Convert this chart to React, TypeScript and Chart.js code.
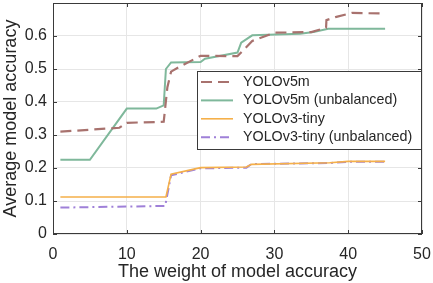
import React, { useEffect, useRef } from 'react';
import { Chart, registerables } from 'chart.js';

Chart.register(...registerables);

// ---- data ----
const seriesNames = ['YOLOv5m', 'YOLOv5m (unbalanced)', 'YOLOv3-tiny', 'YOLOv3-tiny (unbalanced)'];

const v5mX = [1, 9, 10, 15, 15.5, 16, 17, 20, 25, 27, 30, 35, 37, 37.05, 38.4, 40.5, 45];
const v5mY = [0.31, 0.322, 0.337, 0.34, 0.445, 0.492, 0.505, 0.54, 0.539, 0.585, 0.61, 0.612, 0.625, 0.648, 0.658, 0.67, 0.668];

const v5mUX = [1, 5, 10, 14, 15, 15.3, 16, 20, 20.6, 25, 25.5, 27, 33.5, 35.3, 37.3, 45];
const v5mUY = [0.225, 0.225, 0.38, 0.38, 0.39, 0.5, 0.52, 0.521, 0.531, 0.55, 0.58, 0.602, 0.607, 0.612, 0.622, 0.622];

const v3tX = [1, 15.3, 16, 20, 26.2, 26.9, 37.5, 40, 45];
const v3tY = [0.112, 0.112, 0.181, 0.201, 0.203, 0.211, 0.216, 0.22, 0.22];

const v3tUX = [1, 15.2, 16, 20, 26.2, 26.9, 37.5, 40, 45];
const v3tUY = [0.08, 0.085, 0.178, 0.199, 0.201, 0.212, 0.215, 0.219, 0.219];

const xTicks = [0, 10, 20, 30, 40, 50];
const yTicks = [0, 0.1, 0.2, 0.3, 0.4, 0.5, 0.6];

const colors = ['#a8726e', '#7fb89b', '#f5b04a', '#9f80d8'];
const dashes: number[][] = [[11, 6], [], [], [9, 4, 2, 4]];
const widths = [2.2, 2, 1.6, 2];

const FONT = "'Liberation Sans', Arial, Helvetica, sans-serif";
const TEXT = '#262626';

function pts(xs: number[], ys: number[]) {
  return xs.map((x, i) => ({ x, y: ys[i] }));
}

const boxPlugin = {
  id: 'matlabBox',
  afterDraw(chart: any) {
    const { ctx, chartArea: a, scales } = chart;
    ctx.save();
    ctx.strokeStyle = '#3a3a3a';
    ctx.lineWidth = 1;
    ctx.setLineDash([]);
    ctx.strokeRect(a.left + 0.5, a.top + 0.5, a.right - a.left - 1, a.bottom - a.top - 1);
    const tl = 4;
    ctx.beginPath();
    xTicks.forEach((t) => {
      const px = Math.round(scales.x.getPixelForValue(t)) + 0.5;
      ctx.moveTo(px, a.bottom);
      ctx.lineTo(px, a.bottom - tl);
      ctx.moveTo(px, a.top);
      ctx.lineTo(px, a.top + tl);
    });
    yTicks.forEach((t) => {
      const py = Math.round(scales.y.getPixelForValue(t)) + 0.5;
      ctx.moveTo(a.left, py);
      ctx.lineTo(a.left + tl, py);
      ctx.moveTo(a.right, py);
      ctx.lineTo(a.right - tl, py);
    });
    ctx.stroke();

    // legend
    const lw = 224;
    const lh = 78;
    const lx = a.right - lw - 1;
    const ly = a.top + 68;
    ctx.fillStyle = '#ffffff';
    ctx.fillRect(lx, ly, lw, lh);
    ctx.strokeStyle = '#3a3a3a';
    ctx.strokeRect(lx + 0.5, ly + 0.5, lw, lh);
    ctx.font = `14.3px ${FONT}`;
    ctx.textBaseline = 'middle';
    ctx.textAlign = 'left';
    seriesNames.forEach((name, i) => {
      const y = ly + 11 + i * 18.4;
      ctx.strokeStyle = colors[i];
      ctx.lineWidth = widths[i];
      ctx.setLineDash(dashes[i]);
      ctx.beginPath();
      ctx.moveTo(lx + 4, y);
      ctx.lineTo(lx + 36, y);
      ctx.stroke();
      ctx.setLineDash([]);
      ctx.fillStyle = TEXT;
      ctx.fillText(name, lx + 46, y);
    });
    ctx.restore();
  },
};

export default function App() {
  const ref = useRef<HTMLCanvasElement>(null);
  useEffect(() => {
    document.body.style.margin = '0';
    const series = [pts(v5mX, v5mY), pts(v5mUX, v5mUY), pts(v3tX, v3tY), pts(v3tUX, v3tUY)];
    const chart = new Chart(ref.current!, {
      type: 'line',
      data: {
        datasets: series.map((d, i) => ({
          label: seriesNames[i],
          data: d,
          borderColor: colors[i],
          backgroundColor: colors[i],
          borderWidth: widths[i],
          borderDash: dashes[i],
          pointRadius: 0,
          tension: 0,
          fill: false,
        })),
      },
      options: {
        animation: false,
        responsive: false,
        devicePixelRatio: 1,
        layout: { padding: { top: 3, right: 11, left: 0, bottom: 0 } },
        plugins: { legend: { display: false }, tooltip: { enabled: false } },
        scales: {
          x: {
            type: 'linear',
            min: 0,
            max: 50,
            afterBuildTicks: (s: any) => {
              s.ticks = xTicks.map((v) => ({ value: v }));
            },
            afterFit: (s: any) => {
              s.height = 49;
              s.paddingLeft = 0;
              s.paddingRight = 0;
            },
            ticks: { font: { family: FONT, size: 16 }, color: TEXT, padding: 11, maxRotation: 0 },
            grid: { color: '#e6e6e6', drawTicks: false },
            border: { display: false },
            title: {
              display: true,
              text: 'The weight of model accuracy',
              font: { family: FONT, size: 18 },
              color: TEXT,
              padding: { top: 0, bottom: 0 },
            },
          },
          y: {
            type: 'linear',
            min: 0,
            max: 0.7,
            afterBuildTicks: (s: any) => {
              s.ticks = yTicks.map((v) => ({ value: v }));
            },
            afterFit: (s: any) => {
              s.width = 53;
              s.paddingTop = 0;
              s.paddingBottom = 0;
            },
            ticks: {
              font: { family: FONT, size: 16 },
              color: TEXT,
              padding: 6,
              callback: (v: any) => (v === 0 ? '0' : Number(v).toFixed(1)),
            },
            grid: { color: '#e6e6e6', drawTicks: false },
            border: { display: false },
            title: {
              display: true,
              text: 'Average model accuracy',
              font: { family: FONT, size: 18 },
              color: TEXT,
              padding: { top: 0, bottom: 0 },
            },
          },
        },
      },
      plugins: [boxPlugin],
    });
    return () => chart.destroy();
  }, []);
  return <canvas ref={ref} width={433} height={283} style={{ display: 'block' }} />;
}
